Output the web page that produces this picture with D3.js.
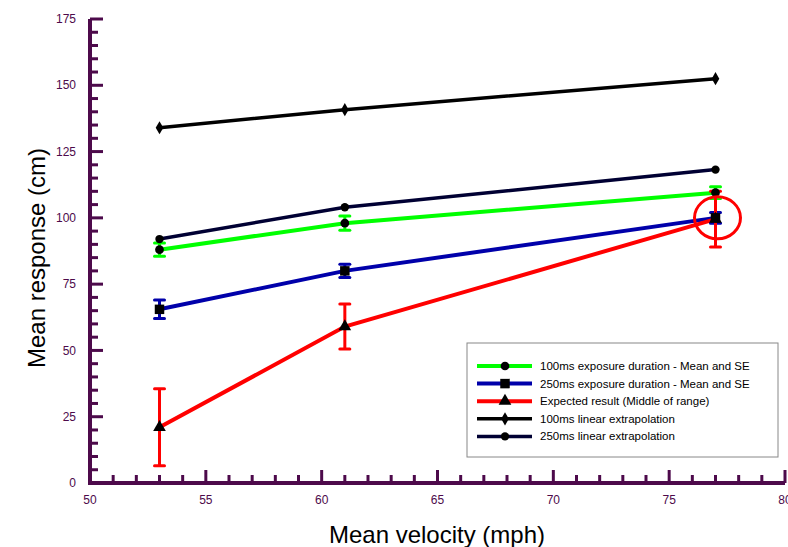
<!DOCTYPE html>
<meta charset="utf-8">
<script src="https://d3js.org/d3.v7.min.js"></script>
<style>
body { margin: 0; background: #fff; }
text { font-family: Arial, "Liberation Sans", sans-serif; }
</style>
<div id="my_dataviz"></div>
<script>

// velocities (mph)
var velocity = [53, 61, 77];

// series values (cm)
var green100 = [88, 98, 109.5];
var green100Err = [2.5, 2.7, 2.2];
var blue250 = [65.5, 80, 100];
var blue250Err = [3.5, 2.5, 2];
var expected = [21, 59, 99.5];
var expectedErr = [14.5, 8.5, 10.5];
var extrap100 = [134, 140.8, 152.5];
var extrap250 = [92, 104, 118.2];

var legendLabels = [
  "100ms exposure duration - Mean and SE",
  "250ms exposure duration - Mean and SE",
  "Expected result (Middle of range)",
  "100ms linear extrapolation",
  "250ms linear extrapolation"
];

var xTicks = [50, 55, 60, 65, 70, 75, 80];
var yTicks = [0, 25, 50, 75, 100, 125, 150, 175];

var axisColor = "#4d0a4b";

var W = 788, H = 547;
var svg = d3.select("#my_dataviz")
  .append("svg")
    .attr("width", W)
    .attr("height", H);

var x = d3.scaleLinear().domain([50, 80]).range([90, 785]);
var y = d3.scaleLinear().domain([0, 175]).range([483, 19]);

// ---------- axes ----------
var yAxis = svg.append("g").attr("transform", "translate(90,0)");
yAxis.append("line")
  .attr("x1", 0).attr("x2", 0)
  .attr("y1", y(0)).attr("y2", y(175))
  .attr("stroke", axisColor).attr("stroke-width", 4);
yAxis.selectAll("line.tick")
  .data(d3.range(5, 176, 5))
  .enter().append("line")
    .attr("class", "tick")
    .attr("x1", 0)
    .attr("x2", function(d) { return d % 25 === 0 ? 13 : 8; })
    .attr("y1", function(d) { return y(d); })
    .attr("y2", function(d) { return y(d); })
    .attr("stroke", axisColor).attr("stroke-width", 3);
yAxis.selectAll("text")
  .data(yTicks)
  .enter().append("text")
    .attr("x", -14)
    .attr("y", function(d) { return y(d); })
    .attr("dy", "0.35em")
    .attr("text-anchor", "end")
    .style("font-size", "12px")
    .attr("fill", axisColor)
    .text(function(d) { return d; });

var xAxis = svg.append("g").attr("transform", "translate(0," + y(0) + ")");
xAxis.append("line")
  .attr("x1", x(50) - 2).attr("x2", x(80))
  .attr("y1", 0).attr("y2", 0)
  .attr("stroke", axisColor).attr("stroke-width", 4);
xAxis.selectAll("line.tick")
  .data(d3.range(51, 81, 1))
  .enter().append("line")
    .attr("class", "tick")
    .attr("x1", function(d) { return x(d); })
    .attr("x2", function(d) { return x(d); })
    .attr("y1", 0)
    .attr("y2", function(d) { return d % 5 === 0 ? -13 : -8; })
    .attr("stroke", axisColor).attr("stroke-width", 3);
xAxis.selectAll("text")
  .data(xTicks)
  .enter().append("text")
    .attr("x", function(d) { return x(d); })
    .attr("y", 21)
    .attr("text-anchor", "middle")
    .style("font-size", "12px")
    .attr("fill", axisColor)
    .text(function(d) { return d; });

// axis titles
svg.append("text")
  .attr("x", 437).attr("y", 543)
  .attr("text-anchor", "middle")
  .style("font-size", "24px")
  .text("Mean velocity (mph)");
svg.append("text")
  .attr("transform", "translate(45,258) rotate(-90)")
  .attr("text-anchor", "middle")
  .style("font-size", "24px")
  .text("Mean response (cm)");

// ---------- series ----------
var line = d3.line()
  .x(function(d, i) { return x(velocity[i]); })
  .y(function(d) { return y(d); });

var sym = {
  circle: d3.symbol().type(d3.symbolCircle).size(60),
  square: d3.symbol().type(d3.symbolSquare).size(90),
  triangle: d3.symbol().type(d3.symbolTriangle).size(70),
  diamond: d3.symbol().type(d3.symbolDiamond).size(50),
  smallCircle: d3.symbol().type(d3.symbolCircle).size(55)
};

var series = [
  { vals: green100, err: green100Err, color: "#00ff00", shape: "circle", w: 4 },
  { vals: blue250, err: blue250Err, color: "#0000aa", shape: "square", w: 4 },
  { vals: expected, err: expectedErr, color: "#ff0000", shape: "triangle", w: 4 },
  { vals: extrap100, err: null, color: "#000000", shape: "diamond", w: 3.5 },
  { vals: extrap250, err: null, color: "#000033", shape: "smallCircle", w: 3.5 }
];

// draw order: lines, then error bars, then markers
var drawOrder = [4, 3, 0, 1, 2];
drawOrder.forEach(function(k) {
  var s = series[k];
  svg.append("path")
    .datum(s.vals)
    .attr("d", line)
    .attr("fill", "none")
    .attr("stroke", s.color)
    .attr("stroke-width", s.w);
});

drawOrder.forEach(function(k) {
  var s = series[k];
  if (!s.err) return;
  var g = svg.append("g");
  s.vals.forEach(function(v, i) {
    var cx = x(velocity[i]);
    g.append("line")
      .attr("x1", cx).attr("x2", cx)
      .attr("y1", y(v - s.err[i])).attr("y2", y(v + s.err[i]))
      .attr("stroke", s.color).attr("stroke-width", 3);
    [v - s.err[i], v + s.err[i]].forEach(function(e) {
      g.append("line")
        .attr("x1", cx - 5).attr("x2", cx + 5)
        .attr("y1", y(e)).attr("y2", y(e))
        .attr("stroke", s.color).attr("stroke-width", 3)
        .attr("stroke-linecap", "round");
    });
  });
});

drawOrder.forEach(function(k) {
  var s = series[k];
  svg.append("g").selectAll("path")
    .data(s.vals)
    .enter().append("path")
      .attr("d", sym[s.shape])
      .attr("transform", function(d, i) { return "translate(" + x(velocity[i]) + "," + y(d) + ")"; })
      .attr("fill", "#000");
});

// annotation circle around last point
svg.append("ellipse")
  .attr("cx", x(77) + 2).attr("cy", y(100))
  .attr("rx", 23).attr("ry", 21)
  .attr("fill", "none")
  .attr("stroke", "#ff0000")
  .attr("stroke-width", 3);

// ---------- legend ----------
var legend = svg.append("g").attr("transform", "translate(467,343)");
legend.append("rect")
  .attr("width", 311).attr("height", 114)
  .attr("fill", "#fff")
  .attr("stroke", "#888").attr("stroke-width", 1);

legendLabels.forEach(function(lab, i) {
  var s = series[i];
  var ly = 23 + i * 17.6;
  legend.append("line")
    .attr("x1", 10).attr("x2", 65)
    .attr("y1", ly).attr("y2", ly)
    .attr("stroke", s.color).attr("stroke-width", s.w);
  legend.append("path")
    .attr("d", sym[s.shape])
    .attr("transform", "translate(38," + ly + ")")
    .attr("fill", "#000");
  legend.append("text")
    .attr("x", 73).attr("y", ly)
    .attr("dy", "0.35em")
    .style("font-size", "11.5px")
    .text(lab);
});
</script>
